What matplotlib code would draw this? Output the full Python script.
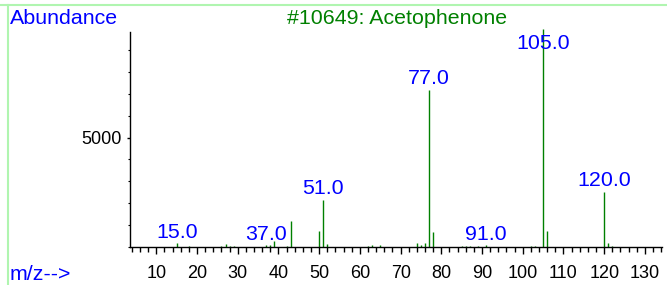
# -*- coding: utf-8 -*-
"""
Mass spectrum plot - Acetophenone (library entry #10649)
"""
import numpy as np
import matplotlib
matplotlib.use("Agg")
from matplotlib import pyplot as plt
from matplotlib.lines import Line2D
from matplotlib.ticker import MultipleLocator

matplotlib.rcParams['font.family'] = ['Liberation Sans', 'DejaVu Sans']

# DATA ========================================================================
v_mz = [15, 18, 26, 27, 28, 29, 37, 38, 39, 42, 43, 50, 51, 52, 62, 63, 65,
        74, 75, 76, 77, 78, 85, 86, 87, 89, 91, 102, 103, 105, 106, 120, 121, 122]
v_abund = [147, 40, 30, 130, 40, 20, 50, 80, 266, 40, 1185, 712, 2135, 125, 40, 80, 50,
           175, 60, 160, 7190, 680, 15, 15, 15, 15, 50, 20, 20, 9999, 712, 2516, 175, 40]

v_label_mz = [15.0, 37.0, 51.0, 77.0, 91.0, 105.0, 120.0]

title = "#10649: Acetophenone"
x_lim = (3.6, 134.2)
y_lim = (0, 9860)

# FIGURE ======================================================================
W, H = 667, 285
fig = plt.figure(figsize=(W / 100.0, H / 100.0), dpi=100)
fig.patch.set_facecolor('white')

# axes placed in pixel coords of the original
ax_l, ax_r, ax_t, ax_b = 130.3, 662.0, 31.7, 246.5
ax = fig.add_axes([ax_l / W, 1 - ax_b / H, (ax_r - ax_l) / W, (ax_b - ax_t) / H])

green = '#008000'
blue = '#0000ff'

ax.vlines(v_mz, 0, v_abund, colors=green, linewidth=1.0, clip_on=False)

ax.set_xlim(*x_lim)
ax.set_ylim(*y_lim)

for s in ['top', 'right']:
    ax.spines[s].set_visible(False)
for s in ['left', 'bottom']:
    ax.spines[s].set_linewidth(1.0)
    ax.spines[s].set_color('black')

ax.xaxis.set_major_locator(MultipleLocator(10))
ax.xaxis.set_minor_locator(MultipleLocator(2))
ax.yaxis.set_major_locator(MultipleLocator(5000))
ax.yaxis.set_minor_locator(MultipleLocator(1000))
ax.set_yticks([5000])
ax.set_yticklabels(['5000'])

ax.tick_params(axis='x', which='major', length=5, width=1.0, pad=8, labelsize=13)
ax.tick_params(axis='x', which='minor', length=3.5, width=1.0)
ax.tick_params(axis='y', which='major', length=2, width=1.0, pad=4, labelsize=13)
ax.tick_params(axis='y', which='minor', length=1.2, width=0.8)

# peak labels, 11 px above the peak but kept inside the frame
d_ab = dict(zip(v_mz, v_abund))
to_px = ax.transData
for mz in v_label_mz:
    y = d_ab[int(mz)]
    px_top = to_px.transform((mz, y))[1]
    ax_top = to_px.transform((mz, y_lim[1]))[1]
    off = 11
    if px_top + off > ax_top - 12:
        off = (ax_top - 12) - px_top
    ax.annotate('%.1f' % mz, xy=(mz, y), xytext=(0, off), textcoords='offset pixels',
                ha='center', va='center', color=blue, fontsize=15.4,
                annotation_clip=False)

# texts around the plot
fig.text(10 / W, 1 - 18 / H, 'Abundance', color=blue, fontsize=15.4, ha='left', va='center')
fig.text(397.5 / W, 1 - 18 / H, title, color=green, fontsize=15.4, ha='center', va='center')
fig.text(10 / W, 1 - 274 / H, 'm/z-->', color=blue, fontsize=15.4, ha='left', va='center')

# light green frame lines (top and left)
fig.add_artist(Line2D([0, 1], [1 - 4.5 / H, 1 - 4.5 / H], color='#b0f5b0', linewidth=1.5,
                      transform=fig.transFigure))
fig.add_artist(Line2D([7.5 / W, 7.5 / W], [0, 1 - 4.5 / H], color='#b0f5b0', linewidth=1.5,
                      transform=fig.transFigure))

fig.savefig('out.png', dpi=100)
